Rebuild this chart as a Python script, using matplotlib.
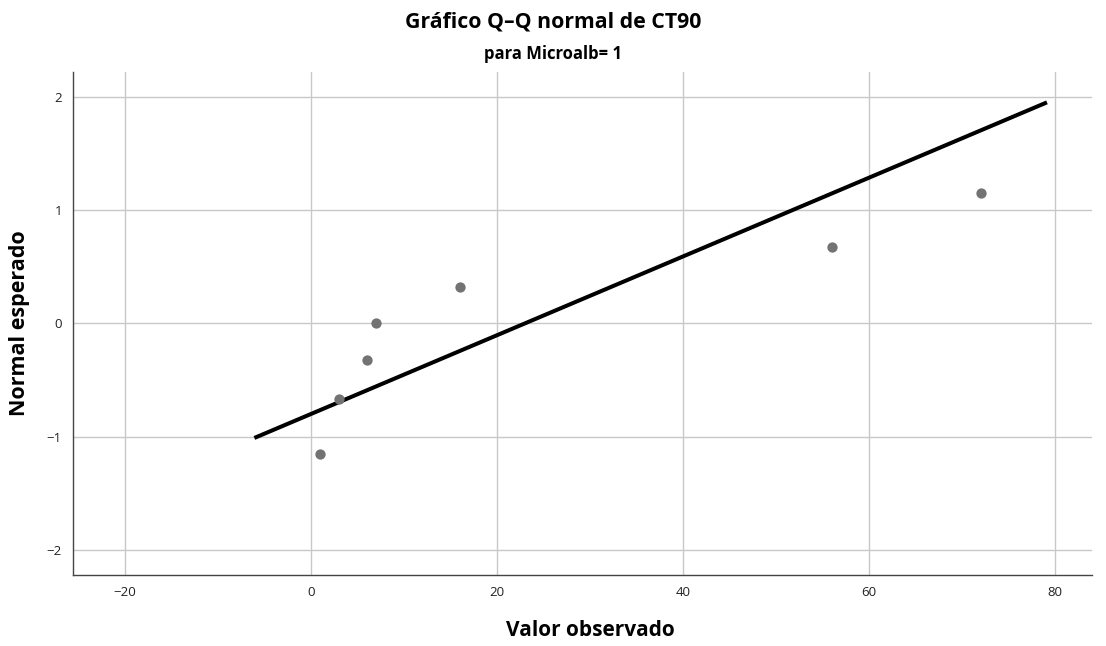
import numpy as np
import matplotlib
matplotlib.use("Agg")
import matplotlib.pyplot as plt

# observed CT90 values and expected normal (van der Waerden) quantiles
observed = [1, 3, 6, 7, 16, 56, 72]
expected = [-1.15, -0.67, -0.32, 0.0, 0.32, 0.67, 1.15]
xticks = [-20, 0, 20, 40, 60, 80]
yticks = [-2, -1, 0, 1, 2]

plt.rcParams['font.family'] = ['Open Sans', 'DejaVu Sans']

fig = plt.figure(figsize=(11.06, 6.46), dpi=100)
ax = fig.add_axes([0.066, 0.110, 0.921, 0.779])

obs = np.array(observed, dtype=float)
mu = obs.mean()
sd = obs.std(ddof=1)
pad = 0.1 * (obs.max() - obs.min())
lx = np.array([obs.min() - pad, obs.max() + pad])
ax.plot(lx, (lx - mu) / sd, color='black', lw=2.9, solid_capstyle='butt', zorder=3)

ax.scatter(observed, expected, s=55, color='#737373', zorder=4, linewidths=0)

ax.set_xlim(-25.6, 83.9)
ax.set_ylim(-2.22, 2.22)
ax.set_xticks(xticks)
ax.set_yticks(yticks)
ax.set_xticklabels([str(t).replace('-', '\u2212') for t in xticks])
ax.set_yticklabels([str(t).replace('-', '\u2212') for t in yticks])
ax.tick_params(length=0, labelsize=9.5, colors='#222222', pad=8)
ax.grid(True, color='#c8c8c8', lw=1.0)
ax.set_axisbelow(True)
for s in ['top', 'right']:
    ax.spines[s].set_visible(False)
for s in ['left', 'bottom']:
    ax.spines[s].set_color('#444444')
    ax.spines[s].set_linewidth(1.0)

fig.text(0.534, 0.024, 'Valor observado', ha='center', va='center',
         fontsize=15, fontweight='bold')
fig.text(0.018, 0.5, 'Normal esperado', ha='center', va='center', rotation=90,
         fontsize=15.5, fontweight='bold')

fig.text(0.5, 0.966, 'Gráfico Q–Q normal de CT90', ha='center', va='center',
         fontsize=15.3, fontweight='bold')
fig.text(0.5, 0.916, 'para Microalb= 1', ha='center', va='center',
         fontsize=12, fontweight='bold')

fig.savefig('out.png', dpi=100)
